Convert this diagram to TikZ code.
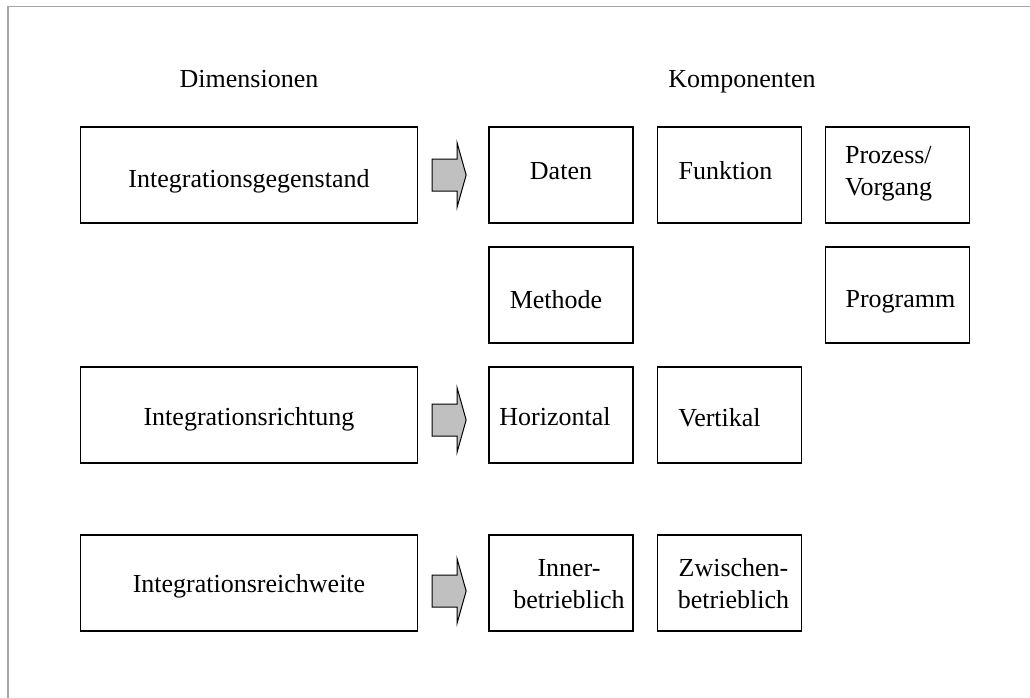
\documentclass[tikz,border=0pt]{standalone}
\usepackage{fontspec}
\setmainfont{Liberation Serif}
\usetikzlibrary{calc}
\definecolor{framegray}{RGB}{165,165,165}
\definecolor{arrowfill}{RGB}{192,192,192}
\begin{document}
\begin{tikzpicture}[x=1pt,y=-1pt,
  txt/.style={font=\fontsize{26}{32}\selectfont, inner sep=0pt},
  dimbox/.style={draw, line width=1.3pt, minimum width=337pt, minimum height=96pt, inner sep=0pt},
  compbox/.style={draw, line width=1.3pt, minimum width=144pt, minimum height=96pt, inner sep=0pt},
  blockarrow/.pic={
    \draw[line width=1pt, fill=arrowfill, line join=miter]
      (-17,-16) -- (8,-16) -- (8,-32) -- (17,0) -- (8,32) -- (8,16) -- (-17,16) -- cycle;
  }]
\useasboundingbox (0,0) rectangle (1030,698);

% frame lines along the top and left edges
\draw[framegray, line width=1.5pt] (1030,6.5) -- (8,6.5) -- (8,698);

% column headings
\node[txt, anchor=base] (hdim)  at (249,88) {Dimensionen};
\node[txt, anchor=base] (hcomp) at (742,88) {Komponenten};

% dimensions
\node[dimbox] (gegenstand) at (249,175) {};
\node[dimbox] (richtung)   at (249,415) {};
\node[dimbox] (reichweite) at (249,583) {};
\node[txt] (tgegenstand) at ($(gegenstand.center)+(0,6)$) {Integrationsgegenstand};
\node[txt] (trichtung)   at ($(richtung.center)+(0,4)$) {Integrationsrichtung};
\node[txt] (treichweite) at ($(reichweite.center)+(0,3)$) {Integrationsreichweite};

% component boxes
\node[compbox] (daten)    at (561,175) {};
\node[compbox] (funktion) at (729.5,175) {};
\node[compbox] (prozess)  at (897.5,175) {};
\node[compbox] (methode)  at (561,295) {};
\node[compbox] (programm) at (897.5,295) {};
\node[compbox] (horiz)    at (561,415) {};
\node[compbox] (vert)     at (729.5,415) {};
\node[compbox] (inner)    at (561,583) {};
\node[compbox] (zwischen) at (729.5,583) {};

% component labels
\node[txt] (tdaten)    at ($(daten.center)+(0,-4)$) {Daten};
\node[txt] (tfunktion) at ($(funktion.center)+(-4,-4)$) {Funktion};
\node[txt, align=left, anchor=west] (tprozess) at ($(prozess.west)+(20,-1)$) {Prozess/\\Vorgang};
\node[txt] (tmethode)  at ($(methode.center)+(-5,5)$) {Methode};
\node[txt] (tprogramm) at ($(programm.center)+(3,7)$) {Programm};
\node[txt] (thoriz)    at ($(horiz.center)+(-6,2)$) {Horizontal};
\node[txt] (tvert)     at ($(vert.center)+(-10,3)$) {Vertikal};
\node[txt, align=center] (tinner)    at ($(inner.center)+(8,1)$) {Inner-\\betrieblich};
\node[txt, align=center] (tzwischen) at ($(zwischen.center)+(4,1)$) {Zwischen-\\betrieblich};

% block arrows from each dimension to its components
\pic at ($(gegenstand.east)+(31,0)$) {blockarrow};
\pic at ($(richtung.east)+(31,5)$) {blockarrow};
\pic at ($(reichweite.east)+(31,8)$) {blockarrow};
\end{tikzpicture}
\end{document}
